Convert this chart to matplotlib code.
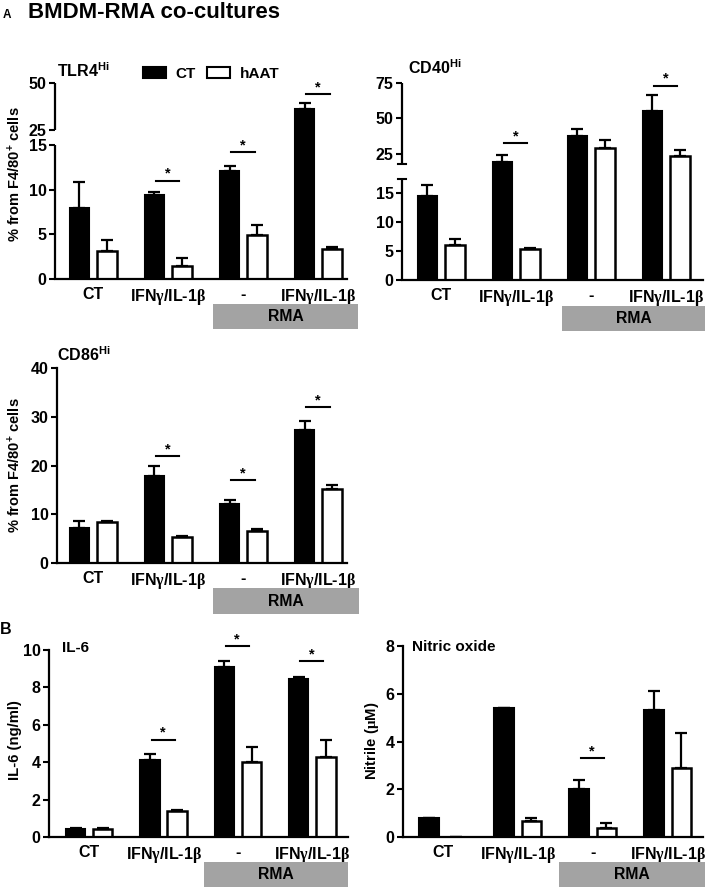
import numpy as np
import matplotlib
matplotlib.use("Agg")
import matplotlib.pyplot as plt
from matplotlib.patches import Rectangle, Patch
import matplotlib.transforms as mtransforms

plt.rcParams['font.family'] = ['Liberation Sans', 'DejaVu Sans']
plt.rcParams['font.weight'] = 'bold'
plt.rcParams['mathtext.fontset'] = 'custom'
plt.rcParams['mathtext.rm'] = 'Liberation Serif'
plt.rcParams['mathtext.bf'] = 'Liberation Sans:bold'
plt.rcParams['mathtext.it'] = 'Liberation Sans:italic'

W, H = 707, 889

# data
groups = ['CT', r'IFN$\mathrm{\gamma}$/IL-1$\mathrm{\beta}$', '-', r'IFN$\mathrm{\gamma}$/IL-1$\mathrm{\beta}$']

tlr4_ct = [7.9, 9.4, 12.1, 36.2]
tlr4_ct_err = [3.0, 0.3, 0.5, 3.0]
tlr4_haat = [3.1, 1.5, 4.9, 3.4]
tlr4_haat_err = [1.3, 0.8, 1.1, 0.2]
tlr4_sig = [(1, 11.0), (2, 14.2), (3, 44.1)]

cd40_ct = [14.5, 18.9, 37.5, 54.7]
cd40_ct_err = [1.8, 5.2, 4.5, 11.6]
cd40_haat = [6.0, 5.4, 28.8, 23.6]
cd40_haat_err = [1.1, 0.2, 5.6, 4.0]
cd40_sig = [(1, 32.1), (3, 72.9)]

cd86_ct = [7.2, 17.9, 12.2, 27.2]
cd86_ct_err = [1.4, 2.0, 0.8, 2.0]
cd86_haat = [8.4, 5.3, 6.6, 15.2]
cd86_haat_err = [0.3, 0.3, 0.3, 0.9]
cd86_sig = [(1, 21.9), (2, 17.0), (3, 31.9)]

il6_ct = [0.45, 4.1, 9.1, 8.45]
il6_ct_err = [0.03, 0.35, 0.3, 0.1]
il6_haat = [0.42, 1.4, 4.0, 4.3]
il6_haat_err = [0.08, 0.05, 0.8, 0.9]
il6_sig = [(1, 5.2), (2, 10.2), (3, 9.4)]

no_ct = [0.8, 5.4, 2.0, 5.3]
no_ct_err = [0, 0, 0.4, 0.8]
no_haat = [0, 0.65, 0.38, 2.9]
no_haat_err = [0, 0.15, 0.2, 1.45]
no_sig = [(2, 3.3)]

fig = plt.figure(figsize=(W / 100, H / 100), dpi=100)

FS = 11.5


def px_axes(left, top, right, bottom):
    return fig.add_axes([left / W, 1 - bottom / H, (right - left) / W, (bottom - top) / H])


def piecewise(vals, pix):
    fwd = lambda v: np.interp(v, vals, pix)
    inv = lambda p: np.interp(p, pix, vals)
    return fwd, inv


def panel(ax, ct, ct_err, haat, haat_err, sig, xlim):
    x = np.arange(len(ct))
    off, bw = 0.183, 0.26
    ax.bar(x - off, ct, bw, color='black', edgecolor='black', linewidth=1.5, zorder=2)
    ax.bar(x + off, haat, bw, color='white', edgecolor='black', linewidth=1.8, zorder=2)
    ax.errorbar(x - off, ct, yerr=[np.zeros(len(ct)), ct_err], fmt='none', ecolor='black',
                elinewidth=1.6, capsize=4.5, capthick=1.6, zorder=3)
    ax.errorbar(x + off, haat, yerr=[np.zeros(len(haat)), haat_err], fmt='none', ecolor='black',
                elinewidth=1.6, capsize=4.5, capthick=1.6, zorder=3)
    for g, yv in sig:
        ax.plot([g - 0.16, g + 0.15], [yv, yv], color='black', lw=1.5, clip_on=False)
        ax.text(g - 0.01, yv, '*', ha='center', va='bottom', fontsize=10.5, clip_on=False)
    ax.set_xlim(*xlim)
    ax.set_xticks(x)
    ax.set_xticklabels(groups, fontsize=FS, fontweight='bold')
    ax.tick_params(axis='x', length=0, pad=6)
    ax.tick_params(axis='y', length=4, width=1.5, labelsize=FS, pad=2)
    for s in ['top', 'right']:
        ax.spines[s].set_visible(False)
    for s in ['left', 'bottom']:
        ax.spines[s].set_linewidth(1.6)


def break_axis(ax, segs, marks=()):
    ax.spines['left'].set_visible(False)
    tr = mtransforms.blended_transform_factory(ax.transAxes, ax.transData)
    for lo, hi in segs:
        ax.plot([0, 0], [lo, hi], color='black', lw=1.6, transform=tr, clip_on=False,
                solid_capstyle='butt')
    for m in marks:
        ax.plot([-0.013, 0.013], [m, m], color='black', lw=1.5, transform=tr, clip_on=False)


def rma_box(left, top, right, bottom):
    fig.patches.append(Rectangle((left / W, 1 - bottom / H), (right - left) / W, (bottom - top) / H,
                                 transform=fig.transFigure, facecolor='#a3a3a3', edgecolor='none'))
    fig.text((left + right) / 2 / W, 1 - (top + bottom) / 2 / H, 'RMA', ha='center', va='center',
             fontsize=11.3, fontweight='bold')


def set_ticks(ax, ticks, labels):
    ax.set_yticks(ticks)
    ax.set_yticklabels(labels, fontweight='bold', fontsize=FS)


# TLR4 panel (broken axis 0-15 / 25-50)
ax1 = px_axes(55, 83, 347, 279)
f, i = piecewise([0, 15, 25, 50], [0, 134, 149, 196])
ax1.set_yscale('function', functions=(f, i))
panel(ax1, tlr4_ct, tlr4_ct_err, tlr4_haat, tlr4_haat_err, tlr4_sig, (-0.507, 3.38))
ax1.set_ylim(0, 50)
set_ticks(ax1, [0, 5, 10, 15, 25, 50], ['0', '5', '10', '15', '25', '50'])
break_axis(ax1, [(0, 15), (25, 50)])

# CD40 panel (broken axis 0-17.5 / 17.6-75)
ax2 = px_axes(402, 82.7, 703, 280)
f, i = piecewise([0, 17.5, 17.6, 75], [0, 101.5, 116, 197.3])
ax2.set_yscale('function', functions=(f, i))
panel(ax2, cd40_ct, cd40_ct_err, cd40_haat, cd40_haat_err, cd40_sig, (-0.52, 3.49))
ax2.set_ylim(0, 75)
set_ticks(ax2, [0, 5, 10, 15, 25, 50, 75], ['0', '5', '10', '15', '25', '50', '75'])
break_axis(ax2, [(0, 17.5), (17.6, 75)], marks=(17.5, 17.6))

# CD86 panel
ax3 = px_axes(57, 368, 347, 563)
panel(ax3, cd86_ct, cd86_ct_err, cd86_haat, cd86_haat_err, cd86_sig, (-0.48, 3.38))
ax3.set_ylim(0, 40)
set_ticks(ax3, [0, 10, 20, 30, 40], ['0', '10', '20', '30', '40'])

# IL-6 panel
ax4 = px_axes(49, 650, 348, 837)
panel(ax4, il6_ct, il6_ct_err, il6_haat, il6_haat_err, il6_sig, (-0.54, 3.48))
ax4.set_ylim(0, 10)
set_ticks(ax4, [0, 2, 4, 6, 8, 10], ['0', '2', '4', '6', '8', '10'])

# Nitric oxide panel
ax5 = px_axes(403, 646, 703, 837)
panel(ax5, no_ct, no_ct_err, no_haat, no_haat_err, no_sig, (-0.53, 3.47))
ax5.set_ylim(0, 8)
set_ticks(ax5, [0, 2, 4, 6, 8], ['0', '2', '4', '6', '8'])

# RMA group boxes
rma_box(213, 304, 358, 329)
rma_box(562, 306, 705, 331)
rma_box(213, 588, 359, 614)
rma_box(204, 862, 348, 887)
rma_box(559, 862, 705, 887)

# panel titles
fig.text(57 / W, 1 - 71 / H, r'TLR4$^{\mathbf{Hi}}$', fontsize=11.5, fontweight='bold', va='center')
fig.text(408 / W, 1 - 68 / H, r'CD40$^{\mathbf{Hi}}$', fontsize=11.5, fontweight='bold', va='center')
fig.text(57 / W, 1 - 355 / H, r'CD86$^{\mathbf{Hi}}$', fontsize=11.5, fontweight='bold', va='center')
fig.text(62 / W, 1 - 648 / H, 'IL-6', fontsize=11, fontweight='bold', va='center')
fig.text(412 / W, 1 - 647 / H, 'Nitric oxide', fontsize=11, fontweight='bold', va='center')

# y labels
fig.text(15 / W, 1 - 174 / H, r'% from F4/80$^{\mathbf{+}}$ cells', rotation=90, ha='center', va='center',
         fontsize=10.5, fontweight='bold')
fig.text(15 / W, 1 - 465 / H, r'% from F4/80$^{\mathbf{+}}$ cells', rotation=90, ha='center', va='center',
         fontsize=10.5, fontweight='bold')
fig.text(15 / W, 1 - 740 / H, 'IL-6 (ng/ml)', rotation=90, ha='center', va='center',
         fontsize=10.7, fontweight='bold')
fig.text(372 / W, 1 - 741 / H, r'Nitrile ($\mathrm{\mu}$M)', rotation=90, ha='center', va='center',
         fontsize=10.7, fontweight='bold')

# headings
fig.text(3 / W, 1 - 15 / H, 'A', fontsize=8.5, fontweight='bold', va='center')
fig.text(28 / W, 1 - 12 / H, 'BMDM-RMA co-cultures', fontsize=16, fontweight='bold', va='center')
fig.text(0 / W, 1 - 629 / H, 'B', fontsize=11.5, fontweight='bold', va='center')

# legend
handles = [Patch(facecolor='black', edgecolor='black', linewidth=1.5),
           Patch(facecolor='white', edgecolor='black', linewidth=1.5)]
fig.legend(handles, ['CT', 'hAAT'], loc='center', bbox_to_anchor=(211 / W, 1 - 74 / H), ncol=2,
           frameon=False, fontsize=11, handlelength=1.5, handleheight=0.75, columnspacing=0.8,
           handletextpad=0.6, borderpad=0)

fig.savefig('out.png', dpi=100)
